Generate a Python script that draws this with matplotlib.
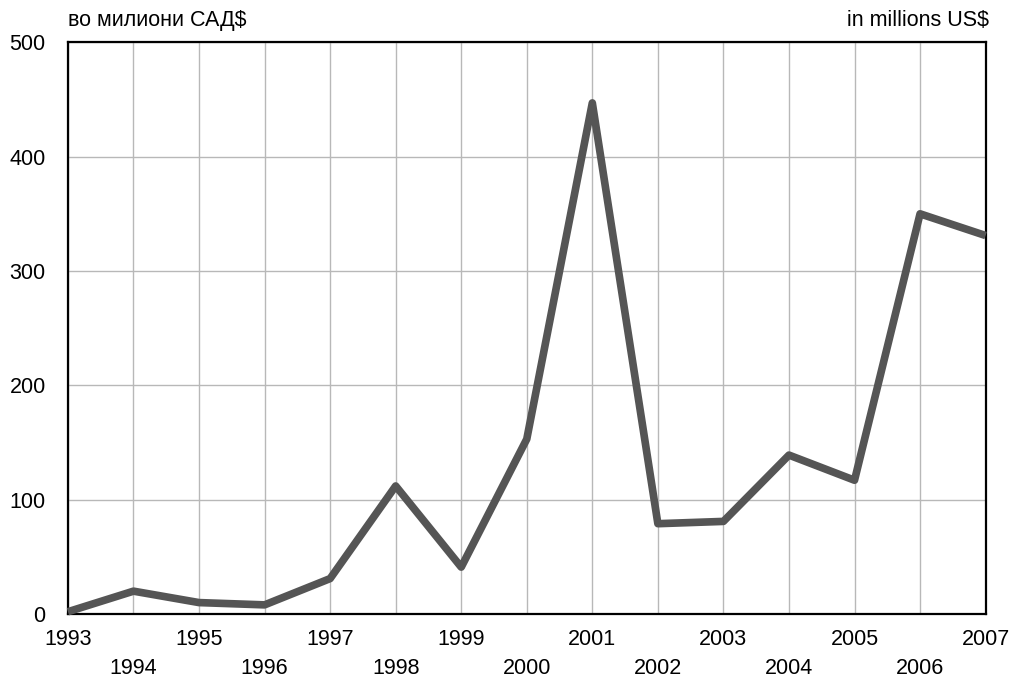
#!/usr/bin/env python3
import matplotlib
matplotlib.use('Agg')
import matplotlib.pyplot as plt

years = [1993, 1994, 1995, 1996, 1997, 1998, 1999, 2000,
         2001, 2002, 2003, 2004, 2005, 2006, 2007]
values = [2, 20, 10, 8, 31, 112, 41, 153,
          447, 79, 81, 139, 117, 350, 331]
yticks = [0, 100, 200, 300, 400, 500]

plt.rcParams['font.family'] = ['Liberation Sans', 'DejaVu Sans']
plt.rcParams['font.size'] = 15.5

fig = plt.figure(figsize=(10.14, 6.79), dpi=100)
ax = fig.add_axes([0.067, 0.0957, 0.905, 0.842])

ax.plot(years, values, color='#555555', linewidth=5.5, solid_joinstyle='round',
        solid_capstyle='butt', zorder=3, clip_on=False)

ax.set_xlim(1993, 2007)
ax.set_ylim(0, 500)
ax.set_xticks(years)
ax.set_xticklabels([str(y) if (y - 1993) % 2 == 0 else '\n' + str(y) for y in years],
                   linespacing=1.5)
ax.set_yticks(yticks)
ax.tick_params(length=0)
ax.tick_params(axis='y', pad=16)
ax.tick_params(axis='x', pad=11)
ax.grid(color='#b8b8b8', linewidth=1, zorder=0)
for s in ax.spines.values():
    s.set_linewidth(1.6)
    s.set_color('black')

fig.text(0.067, 0.97, 'во милиони САД$', ha='left', va='center')
fig.text(0.975, 0.97, 'in millions US$', ha='right', va='center')

fig.savefig('out.png', dpi=100)
